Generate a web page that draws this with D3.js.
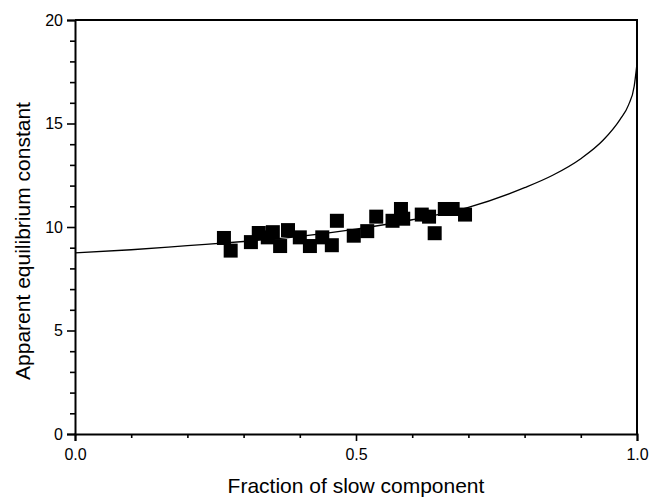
<!DOCTYPE html>
<html>
<head>
<meta charset="utf-8">
<script src="https://cdn.jsdelivr.net/npm/d3@7"></script>
<style>
  body { margin: 0; background: #fff; }
  svg { display: block; }
  text { font-family: "Liberation Sans", Arial, sans-serif; fill: #000; }
</style>
</head>
<body>
<div id="chart"></div>
<script>
// measured points (fraction of slow component, apparent K)
const pointsF = [0.265, 0.277, 0.313, 0.327, 0.343, 0.352, 0.365, 0.379, 0.40, 0.418, 0.44, 0.457, 0.466,
  0.496, 0.52, 0.536, 0.565, 0.58, 0.584, 0.617, 0.63, 0.64, 0.658, 0.672, 0.694];
const pointsK = [9.47, 8.86, 9.27, 9.71, 9.5, 9.75, 9.08, 9.85, 9.5, 9.08, 9.5, 9.12, 10.3,
  9.58, 9.8, 10.5, 10.3, 10.87, 10.4, 10.6, 10.5, 9.7, 10.87, 10.87, 10.6];

// fitted curve
const curveF = [0, 0.1, 0.2, 0.3, 0.4, 0.5, 0.6, 0.7, 0.8, 0.85, 0.9, 0.94, 0.97, 0.985, 0.995, 1.0];
const curveK = [8.75, 8.9, 9.1, 9.3, 9.55, 9.9, 10.35, 10.95, 11.9, 12.5, 13.3, 14.2, 15.2, 15.9, 16.8, 17.9];

const xMajor = [0, 0.5, 1];
const xMinor = [0.1, 0.2, 0.3, 0.4, 0.6, 0.7, 0.8, 0.9];
const yMajor = [0, 5, 10, 15, 20];
const yMinor = d3.range(0, 21).filter(v => v % 5 !== 0);

const width = 651, height = 497;
const plotL = 75, plotR = 637, plotT = 20, plotB = 434;

const svg = d3.select('#chart').append('svg')
  .attr('width', width)
  .attr('height', height);

const x = d3.scaleLinear().domain([0, 1]).range([plotL, plotR]);
const y = d3.scaleLinear().domain([0, 20]).range([plotB, plotT]);

// frame top / right
svg.append('path')
  .attr('d', `M${plotL},${plotT}H${plotR}V${plotB}`)
  .attr('fill', 'none')
  .attr('stroke', '#000')
  .attr('stroke-width', 2);

// --- X AXIS ---
svg.append('g').attr('transform', `translate(0,${plotB})`)
  .call(d3.axisBottom(x).tickValues(xMajor).tickFormat(d3.format('.1f')).tickSize(7).tickPadding(8));
svg.append('g').attr('transform', `translate(0,${plotB})`)
  .call(d3.axisBottom(x).tickValues(xMinor).tickFormat('').tickSize(4))
  .call(g => g.select('.domain').remove());

// --- Y AXIS ---
svg.append('g').attr('transform', `translate(${plotL},0)`)
  .call(d3.axisLeft(y).tickValues(yMajor).tickSize(8).tickPadding(4));
svg.append('g').attr('transform', `translate(${plotL},0)`)
  .call(d3.axisLeft(y).tickValues(yMinor).tickFormat('').tickSize(5))
  .call(g => g.select('.domain').remove());

svg.selectAll('.domain').attr('stroke-width', 2);
svg.selectAll('.tick line').attr('stroke-width', 1.6);
svg.selectAll('.tick text')
  .style('font-family', '"Liberation Sans", Arial, sans-serif')
  .attr('font-size', 16);

// curve
const line = d3.line()
  .x(d => x(d[0]))
  .y(d => y(d[1]))
  .curve(d3.curveMonotoneX);

svg.append('path')
  .datum(curveF.map((f, i) => [f, curveK[i]]))
  .attr('d', line)
  .attr('fill', 'none')
  .attr('stroke', '#000')
  .attr('stroke-width', 1.3);

// squares
const s = 14;
svg.append('g').selectAll('rect')
  .data(pointsF.map((f, i) => [f, pointsK[i]]))
  .join('rect')
  .attr('x', d => x(d[0]) - s / 2)
  .attr('y', d => y(d[1]) - s / 2)
  .attr('width', s)
  .attr('height', s)
  .attr('fill', '#000');

// titles
svg.append('text')
  .attr('x', (plotL + plotR) / 2)
  .attr('y', 493)
  .attr('text-anchor', 'middle')
  .attr('font-size', 21)
  .text('Fraction of slow component');

svg.append('text')
  .attr('transform', `translate(30,241) rotate(-90)`)
  .attr('text-anchor', 'middle')
  .attr('font-size', 21)
  .text('Apparent equilibrium constant');
</script>
</body>
</html>
